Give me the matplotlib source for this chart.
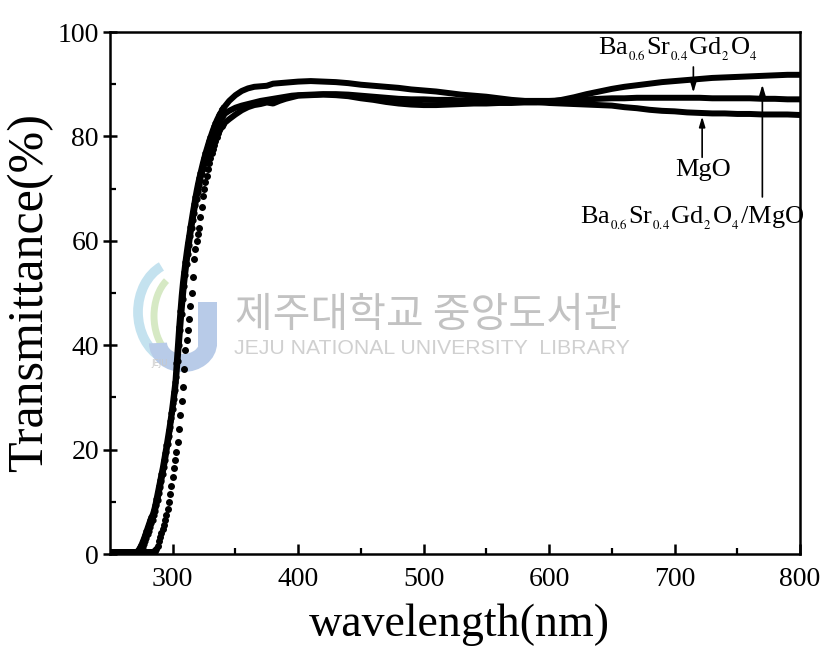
import numpy as np
import matplotlib.pyplot as plt
from matplotlib.patches import Arc, Rectangle

plt.rcParams['font.family'] = ['Liberation Serif', 'DejaVu Serif']
plt.rcParams['mathtext.fontset'] = 'stix'

# absorption edge, 1 nm steps (250 - 340 nm)
wl_edge = np.arange(250, 341)

T_mgo_edge = [
    0.3, 0.3, 0.3, 0.3, 0.3, 0.3, 0.3, 0.3, 0.3, 0.3,
    0.3, 0.3, 0.3, 0.3, 0.3, 0.3, 0.3, 0.3, 0.3, 0.3,
    0.3, 0.4, 0.6, 0.9, 1.3, 1.8, 2.4, 3.0, 3.7, 4.4,
    5.1, 5.8, 6.5, 7.1, 7.6, 8.4, 9.4, 10.6, 11.8, 13.0,
    14.2, 15.4, 16.6, 18.0, 19.4, 20.8, 22.3, 23.8, 25.4, 27.1,
    29.0, 31.0, 33.0, 36.5, 40.0, 43.5, 46.5, 49.5, 52.0, 54.0,
    56.0, 57.8, 59.5, 61.0, 62.6, 64.1, 65.6, 67.0, 68.4, 69.7,
    70.9, 72.0, 73.0, 74.0, 75.0, 75.9, 76.8, 77.6, 78.4, 79.2,
    79.9, 80.6, 81.3, 81.9, 82.5, 83.1, 83.6, 84.1, 84.5, 84.9,
    85.3]

T_ba_edge = [
    0.3, 0.3, 0.3, 0.3, 0.3, 0.3, 0.3, 0.3, 0.3, 0.3,
    0.3, 0.3, 0.3, 0.3, 0.3, 0.3, 0.3, 0.3, 0.3, 0.3,
    0.3, 0.3, 0.4, 0.5, 0.7, 1.0, 1.4, 1.9, 2.5, 3.1,
    3.8, 4.5, 5.2, 5.9, 6.6, 7.4, 8.3, 9.3, 10.4, 11.6,
    12.8, 14.0, 15.3, 16.6, 18.0, 19.5, 21.0, 22.6, 24.3, 26.0,
    27.8, 29.6, 31.5, 34.0, 37.0, 40.0, 43.0, 46.0, 48.8, 51.3,
    53.5, 55.5, 57.4, 59.2, 60.9, 62.5, 64.0, 65.4, 66.8, 68.1,
    69.4, 70.6, 71.7, 72.8, 73.8, 74.8, 75.7, 76.6, 77.4, 78.2,
    78.9, 79.6, 80.3, 80.9, 81.5, 82.0, 82.5, 83.0, 83.4, 83.8,
    84.1]

T_bam_edge = [
    0.3, 0.3, 0.3, 0.3, 0.3, 0.3, 0.3, 0.3, 0.3, 0.3,
    0.3, 0.3, 0.3, 0.3, 0.3, 0.3, 0.3, 0.3, 0.3, 0.3,
    0.3, 0.3, 0.3, 0.3, 0.3, 0.3, 0.3, 0.3, 0.3, 0.3,
    0.3, 0.3, 0.3, 0.35, 0.4, 0.5, 0.6, 1.0, 1.6, 2.5,
    3.3, 4.0, 4.8, 5.6, 6.5, 7.4, 8.6, 10.0, 11.5, 13.1,
    14.8, 16.4, 18.0, 19.6, 21.5, 24.0, 26.7, 29.3, 32.0, 35.5,
    39.0, 41.0, 43.0, 45.0, 47.5, 50.0, 53.0, 56.5, 58.5, 60.0,
    61.3, 62.5, 64.5, 66.5, 68.5, 70.0, 71.3, 72.5, 73.7, 74.9,
    75.9, 76.8, 77.6, 78.4, 79.2, 79.9, 80.6, 81.3, 81.7, 82.0,
    82.3]

# visible / plateau region
wl_vis = list(range(345, 400, 5)) + list(range(400, 801, 10))

T_mgo_vis = [
    86.8, 87.9, 88.7, 89.2, 89.5, 89.6, 89.7, 90.1, 90.2, 90.3, 90.4,
    90.5, 90.6, 90.5, 90.4, 90.2, 89.9, 89.7, 89.5, 89.3, 89.0,
    88.8, 88.6, 88.3, 88.0, 87.8, 87.6, 87.3, 87.0, 86.8, 86.6,
    86.4, 86.3, 86.2, 86.1, 86.0, 85.9, 85.6, 85.4, 85.1, 84.9,
    84.8, 84.6, 84.5, 84.4, 84.4, 84.3, 84.3, 84.2, 84.2, 84.2,
    84.1]

T_ba_vis = [
    84.9, 85.5, 85.9, 86.2, 86.5, 86.8, 87.0, 87.2, 87.4, 87.6, 87.8,
    87.9, 88.0, 88.1, 88.1, 88.0, 87.8, 87.6, 87.4, 87.2, 87.1,
    87.1, 87.0, 87.0, 86.9, 86.9, 86.8, 86.8, 86.8, 86.8, 86.8,
    86.8, 86.9, 87.0, 87.1, 87.2, 87.3, 87.3, 87.4, 87.4, 87.4,
    87.4, 87.4, 87.4, 87.3, 87.3, 87.3, 87.3, 87.2, 87.2, 87.1,
    87.1]

T_bam_vis = [
    83.3, 84.2, 85.0, 85.6, 86.0, 86.2, 86.5, 86.3, 86.8, 87.2, 87.5,
    87.8, 87.9, 88.0, 87.9, 87.7, 87.3, 87.0, 86.6, 86.3, 86.1,
    86.0, 86.0, 86.1, 86.2, 86.3, 86.3, 86.4, 86.4, 86.5, 86.5,
    86.6, 87.0, 87.5, 88.1, 88.6, 89.1, 89.5, 89.8, 90.1, 90.4,
    90.6, 90.8, 91.0, 91.2, 91.3, 91.4, 91.5, 91.6, 91.7, 91.8,
    91.8]

x_ticks = [300, 400, 500, 600, 700, 800]
y_ticks = [0, 20, 40, 60, 80, 100]

fig = plt.figure(figsize=(8.21, 6.62), dpi=100)
fig.patch.set_facecolor('white')

# library watermark sits underneath the plot
bg = fig.add_axes([0, 0, 1, 1], zorder=-1)
bg.set_xlim(0, 821)
bg.set_ylim(662, 0)
bg.axis('off')
bg.add_patch(Arc((178, 312), 80, 100, theta1=110, theta2=250, lw=7, color='#c4e2ef'))
bg.add_patch(Arc((183, 316), 58, 86, theta1=115, theta2=245, lw=5, color='#d6e9c4'))
bg.add_patch(Rectangle((198, 302), 19, 44, color='#b8cbe8', lw=0))
bg.add_patch(Arc((183, 343), 50, 40, theta1=0, theta2=180, lw=13, color='#b8cbe8'))
bg.text(160, 364, 'JEJU', fontsize=6, color='#c8c8c8', ha='center', va='center',
        family='DejaVu Sans')
bg.text(428, 316, '제주대학교 중앙도서관', fontsize=29.5, color='#c2c2c2',
        ha='center', va='center', family=['Noto Sans CJK KR', 'DejaVu Sans'])
bg.text(432, 348, 'JEJU NATIONAL UNIVERSITY  LIBRARY', fontsize=15.3, color='#d0d0d0',
        ha='center', va='center', family='Liberation Sans')

ax = fig.add_axes([110/821, 1-554/662, 690/821, 522/662])
ax.set_facecolor('none')

# MgO and Ba0.6Sr0.4Gd2O4 look solid, Ba/MgO shows its points on the edge
ax.plot(wl_edge, T_mgo_edge, '-o', color='k', lw=4, ms=3.5)
ax.plot([wl_edge[-1]] + wl_vis, [T_mgo_edge[-1]] + T_mgo_vis, '-', color='k', lw=4.3)
ax.plot(wl_edge, T_ba_edge, '-o', color='k', lw=4, ms=3.5)
ax.plot([wl_edge[-1]] + wl_vis, [T_ba_edge[-1]] + T_ba_vis, '-', color='k', lw=4.3)
ax.plot(wl_edge, T_bam_edge, 'o', color='k', ms=4)
ax.plot([wl_edge[-1]] + wl_vis, [T_bam_edge[-1]] + T_bam_vis, '-', color='k', lw=4.3)

ax.set_xlim(250, 800)
ax.set_ylim(0, 100)
ax.set_xticks(x_ticks)
ax.set_yticks(y_ticks)
ax.set_xticks(range(350, 800, 100), minor=True)
ax.set_yticks(range(10, 100, 20), minor=True)

for s in ax.spines.values():
    s.set_linewidth(1.8)
ax.tick_params(axis='x', which='major', direction='in', length=7, width=1.8,
               pad=9, labelsize=20)
ax.tick_params(axis='x', which='minor', direction='in', length=4, width=1.6)
ax.tick_params(axis='y', which='major', direction='inout', length=10, width=1.8,
               pad=3, labelsize=20)
ax.tick_params(axis='y', which='minor', direction='in', length=4, width=1.6)

ax.set_xlabel('wavelength(nm)', fontsize=33)
ax.set_ylabel('Transmittance(%)', fontsize=36)
ax.xaxis.set_label_coords(0.507, -0.095)
ax.yaxis.set_label_coords(-0.083, 0.5)

arrow = dict(arrowstyle='-|>,head_length=0.6,head_width=0.18', color='k', lw=1.2,
             shrinkA=0, shrinkB=0)
lbl = dict(fontsize=19, ha='center', va='baseline')

ax.text(703, 95.6, r'Ba$_{_{0.6}}$Sr$_{_{0.4}}$Gd$_{_2}$O$_{_4}$', **lbl)
ax.annotate('', xy=(715, 88.4), xytext=(715, 93.3), arrowprops=arrow)

ax.text(723, 72.4, 'MgO', **lbl)
ax.annotate('', xy=(722, 83.8), xytext=(722, 76.0), arrowprops=arrow)

ax.text(714, 63.2, r'Ba$_{_{0.6}}$Sr$_{_{0.4}}$Gd$_{_2}$O$_{_4}$/MgO', **lbl)
ax.annotate('', xy=(770, 89.9), xytext=(770, 68.4), arrowprops=arrow)

fig.savefig('out.png', dpi=100)
